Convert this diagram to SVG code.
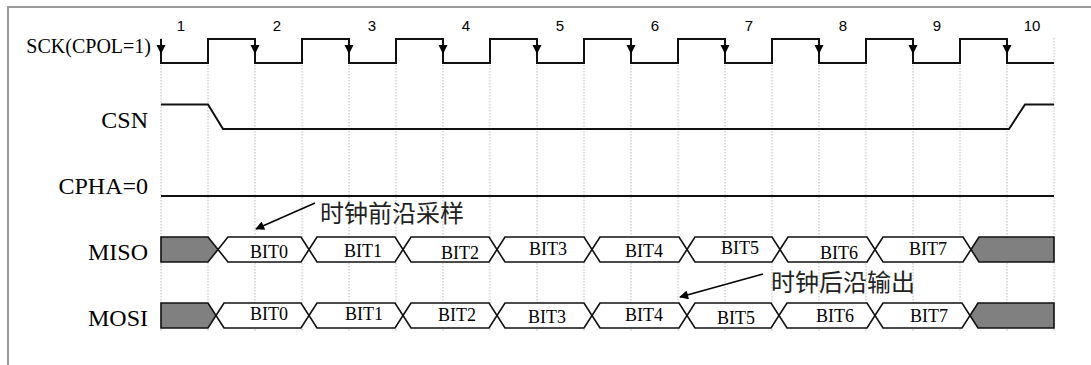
<svg xmlns="http://www.w3.org/2000/svg" width="1091" height="365" viewBox="0 0 1091 365">
<style>
.frame{stroke:#9a9a9a;stroke-width:2;fill:none}
.grid{stroke:#bdbdbd;stroke-width:1;stroke-dasharray:1.5 1.5;fill:none}
.wave{stroke:#111;stroke-width:2;fill:none}
.bus{stroke:#111;stroke-width:1.6;fill:#fff;stroke-linejoin:miter}
.idle{stroke:#111;stroke-width:1.6;fill:#808080}
.lbl{font-family:"Liberation Serif","Times New Roman",serif;font-size:24px;fill:#000;text-anchor:end}
.num{font-family:"Liberation Sans",Arial,sans-serif;font-size:15px;fill:#000;text-anchor:middle}
.bit{font-family:"Liberation Serif","Times New Roman",serif;font-size:18px;fill:#000;text-anchor:middle}
.cjk{font-family:"Liberation Sans","Noto Sans CJK SC",sans-serif;font-size:24px;fill:#222}
.conn{stroke:#000;stroke-width:1.5;fill:none}
</style>
<defs>
<path id="dn" d="M-4.5,-4 L4.5,-4 L0,5 Z" fill="#000"/>
<marker id="ah" viewBox="0 0 10 10" refX="9" refY="5" markerWidth="11" markerHeight="9" markerUnits="userSpaceOnUse" orient="auto">
<path d="M0,0 L10,5 L0,10 Z" fill="#000"/>
</marker>
</defs>
<rect width="1091" height="365" fill="#fff"/>
<g id="frame">
<path class="frame" d="M8,365 V7 H1091"/>
</g>
<g id="grid">
<path class="grid" d="M161,38V331 M208,38V331 M255,38V331 M302,38V331 M349,38V331 M396,38V331 M443,38V331 M490,38V331 M537,38V331 M584,38V331 M631,38V331 M678,38V331 M725,38V331 M772,38V331 M819,38V331 M866,38V331 M913,38V331 M960,38V331 M1007,38V331 M1054,38V331"/>
</g>
<g id="sck">
<text class="lbl" x="151" y="53" style="font-size:20px">SCK(CPOL=1)</text>
<path class="wave" d="M161,39 V63 H208 V39 H255 V63 H302 V39 H349 V63 H396 V39 H443 V63 H490 V39 H537 V63 H584 V39 H631 V63 H678 V39 H725 V63 H772 V39 H819 V63 H866 V39 H913 V63 H960 V39 H1007 V63 H1054"/>
<use href="#dn" x="161" y="49"/>
<use href="#dn" x="255" y="49"/>
<use href="#dn" x="349" y="49"/>
<use href="#dn" x="443" y="49"/>
<use href="#dn" x="537" y="49"/>
<use href="#dn" x="631" y="49"/>
<use href="#dn" x="725" y="49"/>
<use href="#dn" x="819" y="49"/>
<use href="#dn" x="913" y="49"/>
<use href="#dn" x="1007" y="49"/>
<text class="num" x="181" y="31">1</text>
<text class="num" x="277" y="31">2</text>
<text class="num" x="372" y="31">3</text>
<text class="num" x="466" y="31">4</text>
<text class="num" x="560" y="31">5</text>
<text class="num" x="655" y="31">6</text>
<text class="num" x="749" y="31">7</text>
<text class="num" x="843" y="31">8</text>
<text class="num" x="937" y="31">9</text>
<text class="num" x="1032" y="31">10</text>
</g>
<g id="csn">
<text class="lbl" x="148" y="128">CSN</text>
<path class="wave" d="M161,104.5 H208 L223,129 H1009 L1025,104.5 H1054"/>
</g>
<g id="cpha">
<text class="lbl" x="148" y="194">CPHA=0</text>
<path class="wave" d="M161,196 H1054"/>
</g>
<g id="miso">
<text class="lbl" x="148" y="260">MISO</text>
<path class="idle" d="M161,237 H208 L218,249.5 L208,262 H161 Z"/>
<path class="bus" d="M218,249.5 L228,237 H301 L309,249.5 L301,262 H228 Z"/>
<path class="bus" d="M309,249.5 L317,237 H395 L403,249.5 L395,262 H317 Z"/>
<path class="bus" d="M403,249.5 L411,237 H489 L497,249.5 L489,262 H411 Z"/>
<path class="bus" d="M497,249.5 L505,237 H584 L592,249.5 L584,262 H505 Z"/>
<path class="bus" d="M592,249.5 L600,237 H679 L687,249.5 L679,262 H600 Z"/>
<path class="bus" d="M687,249.5 L695,237 H772 L780,249.5 L772,262 H695 Z"/>
<path class="bus" d="M780,249.5 L788,237 H867 L875,249.5 L867,262 H788 Z"/>
<path class="bus" d="M875,249.5 L883,237 H963 L971,249.5 L963,262 H883 Z"/>
<path class="idle" d="M971,249.5 L979,237 H1054 V262 H979 Z"/>
<text class="bit" x="269" y="258">BIT0</text>
<text class="bit" x="363" y="257">BIT1</text>
<text class="bit" x="460" y="259">BIT2</text>
<text class="bit" x="548" y="255">BIT3</text>
<text class="bit" x="644" y="257">BIT4</text>
<text class="bit" x="740" y="254">BIT5</text>
<text class="bit" x="839" y="259">BIT6</text>
<text class="bit" x="928" y="255">BIT7</text>
</g>
<g id="mosi">
<text class="lbl" x="148" y="326">MOSI</text>
<path class="idle" d="M161,303 H208 L216,315.5 L208,328 H161 Z"/>
<path class="bus" d="M216,315.5 L224,303 H301 L309,315.5 L301,328 H224 Z"/>
<path class="bus" d="M309,315.5 L317,303 H395 L403,315.5 L395,328 H317 Z"/>
<path class="bus" d="M403,315.5 L411,303 H489 L497,315.5 L489,328 H411 Z"/>
<path class="bus" d="M497,315.5 L505,303 H584 L592,315.5 L584,328 H505 Z"/>
<path class="bus" d="M592,315.5 L600,303 H679 L687,315.5 L679,328 H600 Z"/>
<path class="bus" d="M687,315.5 L695,303 H771 L779,315.5 L771,328 H695 Z"/>
<path class="bus" d="M779,315.5 L787,303 H867 L875,315.5 L867,328 H787 Z"/>
<path class="bus" d="M875,315.5 L883,303 H962 L970,315.5 L962,328 H883 Z"/>
<path class="idle" d="M970,315.5 L978,303 H1054 V328 H978 Z"/>
<text class="bit" x="269" y="320">BIT0</text>
<text class="bit" x="364" y="320">BIT1</text>
<text class="bit" x="457" y="321">BIT2</text>
<text class="bit" x="547" y="323">BIT3</text>
<text class="bit" x="644" y="321">BIT4</text>
<text class="bit" x="736" y="324">BIT5</text>
<text class="bit" x="835" y="322">BIT6</text>
<text class="bit" x="929" y="322">BIT7</text>
</g>
<g id="note-sample">
<text class="cjk" x="320" y="222">时钟前沿采样</text>
</g>
<g id="note-output">
<text class="cjk" x="771" y="291">时钟后沿输出</text>
</g>
<g id="connectors">
<path class="conn" d="M315,203 L256,229" marker-end="url(#ah)"/>
<path class="conn" d="M763,274 L680,297" marker-end="url(#ah)"/>
</g>
</svg>
